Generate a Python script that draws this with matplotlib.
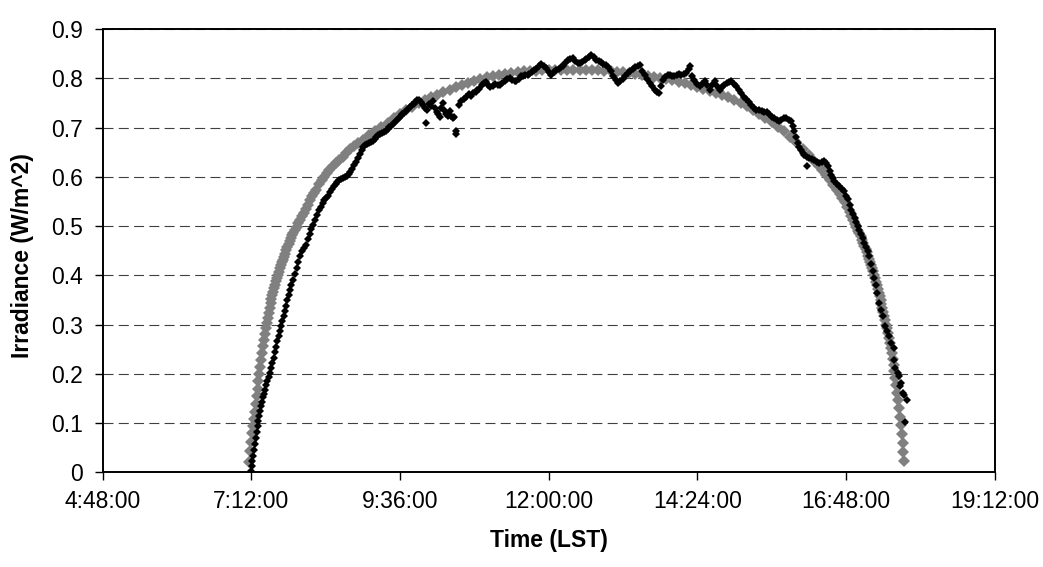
import matplotlib
matplotlib.use('Agg')
from matplotlib import pyplot as plt

#Modelled clear-sky irradiance (grey diamonds), time in decimal hours LST
model_hours = [7.160, 7.175, 7.195, 7.210, 7.225, 7.240, 7.255, 7.270, 7.285, 7.300,
               7.315, 7.330, 7.345, 7.360, 7.375, 7.390, 7.405, 7.420, 7.435, 7.450,
               7.465, 7.480, 7.495, 7.510, 7.525, 7.540, 7.555, 7.570, 7.585, 7.600,
               7.615, 7.630, 7.645, 7.660, 7.675, 7.690, 7.705, 7.720, 7.740, 7.760,
               7.780, 7.800, 7.820, 7.840, 7.860, 7.880, 7.900, 7.930, 7.960, 7.990,
               8.020, 8.050, 8.080, 8.110, 8.145, 8.180, 8.215, 8.250, 8.300, 8.340,
               8.380, 8.420, 8.460, 8.520, 8.570, 8.620, 8.680, 8.730, 8.800, 8.860,
               8.930, 9.0, 9.1, 9.2, 9.3, 9.4, 9.5, 9.6, 9.7, 9.8,
               9.9, 10.0, 10.1, 10.2, 10.3, 10.4, 10.5, 10.6, 10.7, 10.8,
               10.9, 11.0, 11.1, 11.2, 11.3, 11.4, 11.5, 11.6, 11.7, 11.8,
               11.9, 12.0, 12.1, 12.2, 12.3, 12.4, 12.5, 12.6, 12.7, 12.8,
               12.9, 13.0, 13.1, 13.2, 13.3, 13.4, 13.5, 13.6, 13.7, 13.8,
               13.9, 14.0, 14.1, 14.2, 14.3, 14.4, 14.5, 14.6, 14.7, 14.8,
               14.9, 15.0, 15.1, 15.2, 15.3, 15.4, 15.5, 15.6, 15.7, 15.8,
               15.9, 16.0, 16.1, 16.2, 16.30, 16.36, 16.42, 16.48, 16.54, 16.60,
               16.65, 16.70, 16.74, 16.78, 16.82, 16.86, 16.89, 16.92, 16.95, 16.97,
               17.00, 17.02, 17.04, 17.06, 17.08, 17.10, 17.12, 17.14, 17.16, 17.18,
               17.195, 17.21, 17.225, 17.24, 17.255, 17.27, 17.285, 17.30, 17.315, 17.33,
               17.345, 17.36, 17.375, 17.39, 17.405, 17.42, 17.435, 17.45, 17.465, 17.48,
               17.495, 17.51, 17.525, 17.54, 17.555, 17.57, 17.585, 17.60, 17.615, 17.63,
               17.645, 17.66, 17.675, 17.69, 17.705, 17.72, 17.73, 17.74]
model_irr = [0.020, 0.043, 0.062, 0.080, 0.095, 0.109, 0.123, 0.139, 0.155, 0.170,
             0.185, 0.200, 0.214, 0.229, 0.243, 0.256, 0.269, 0.281, 0.292, 0.304,
             0.314, 0.324, 0.333, 0.343, 0.352, 0.360, 0.367, 0.374, 0.381, 0.388,
             0.394, 0.401, 0.407, 0.414, 0.420, 0.426, 0.432, 0.437, 0.444, 0.451,
             0.457, 0.463, 0.469, 0.475, 0.481, 0.486, 0.491, 0.499, 0.506, 0.513,
             0.520, 0.527, 0.535, 0.543, 0.552, 0.560, 0.567, 0.574, 0.586, 0.594,
             0.600, 0.607, 0.613, 0.621, 0.628, 0.634, 0.641, 0.648, 0.656, 0.662,
             0.669, 0.675, 0.685, 0.693, 0.701, 0.710, 0.719, 0.727, 0.735, 0.742,
             0.749, 0.755, 0.761, 0.767, 0.772, 0.777, 0.782, 0.787, 0.791, 0.795,
             0.799, 0.802, 0.805, 0.807, 0.809, 0.811, 0.812, 0.814, 0.815, 0.815,
             0.816, 0.816, 0.817, 0.817, 0.817, 0.817, 0.817, 0.817, 0.816, 0.816,
             0.815, 0.814, 0.813, 0.812, 0.811, 0.809, 0.807, 0.805, 0.803, 0.801,
             0.798, 0.796, 0.793, 0.790, 0.787, 0.783, 0.779, 0.775, 0.771, 0.766,
             0.761, 0.756, 0.750, 0.743, 0.736, 0.728, 0.720, 0.711, 0.702, 0.692,
             0.681, 0.670, 0.657, 0.644, 0.630, 0.622, 0.613, 0.604, 0.594, 0.583,
             0.574, 0.565, 0.556, 0.548, 0.539, 0.528, 0.520, 0.512, 0.504, 0.499,
             0.490, 0.485, 0.479, 0.472, 0.466, 0.460, 0.453, 0.447, 0.440, 0.434,
             0.428, 0.421, 0.415, 0.408, 0.401, 0.394, 0.387, 0.380, 0.372, 0.365,
             0.357, 0.350, 0.342, 0.334, 0.326, 0.317, 0.309, 0.300, 0.292, 0.283,
             0.273, 0.263, 0.253, 0.242, 0.231, 0.218, 0.205, 0.191, 0.177, 0.162,
             0.147, 0.130, 0.113, 0.096, 0.078, 0.060, 0.042, 0.022]

#Measured irradiance (black diamonds)
meas_hours = [7.200, 7.205, 7.215, 7.225, 7.240, 7.255, 7.270, 7.285, 7.300, 7.315,
              7.330, 7.345, 7.360, 7.375, 7.390, 7.405, 7.420, 7.440, 7.460, 7.480,
              7.500, 7.520, 7.540, 7.560, 7.580, 7.600, 7.620, 7.640, 7.660, 7.680,
              7.700, 7.720, 7.740, 7.760, 7.780, 7.800, 7.820, 7.845, 7.870, 7.900,
              7.930, 7.960, 7.990, 8.020, 8.050, 8.080, 8.110, 8.140, 8.170, 8.200,
              8.230, 8.260, 8.290, 8.320, 8.350, 8.380, 8.410, 8.440, 8.470, 8.500,
              8.530, 8.560, 8.590, 8.620, 8.650, 8.680, 8.710, 8.740, 8.770, 8.800,
              8.830, 8.860, 8.890, 8.920, 8.950, 8.980, 9.010, 9.040, 9.070, 9.100,
              9.130, 9.160, 9.190, 9.220, 9.250, 9.280, 9.310, 9.340, 9.370, 9.400,
              9.430, 9.460, 9.490, 9.520, 9.550, 9.580, 9.610, 9.640, 9.670, 9.700,
              9.730, 9.760, 9.790, 9.820, 9.850, 9.880, 9.910, 9.940, 9.970, 10.00,
              10.02, 10.04, 10.07, 10.10, 10.13, 10.16, 10.19, 10.21, 10.24, 10.26,
              10.29, 10.31, 10.34, 10.37, 10.40, 10.43, 10.46, 10.48, 10.51, 10.51,
              10.55, 10.59, 10.63, 10.67, 10.71, 10.75, 10.78, 10.82, 10.85, 10.88,
              10.92, 10.95, 10.99, 11.02, 11.06, 11.10, 11.14, 11.18, 11.21, 11.25,
              11.29, 11.33, 11.37, 11.41, 11.45, 11.48, 11.52, 11.55, 11.58, 11.62,
              11.66, 11.69, 11.73, 11.77, 11.80, 11.84, 11.88, 11.92, 11.96, 12.00,
              12.04, 12.08, 12.12, 12.16, 12.20, 12.23, 12.27, 12.31, 12.35, 12.39,
              12.43, 12.47, 12.50, 12.54, 12.58, 12.61, 12.65, 12.69, 12.73, 12.77,
              12.81, 12.85, 12.88, 12.92, 12.96, 13.00, 13.04, 13.08, 13.12, 13.16,
              13.20, 13.24, 13.28, 13.32, 13.36, 13.40, 13.44, 13.47, 13.51, 13.55,
              13.59, 13.63, 13.67, 13.71, 13.75, 13.78, 13.81, 13.84, 13.88, 13.92,
              13.96, 14.00, 14.03, 14.07, 14.11, 14.14, 14.18, 14.22, 14.26, 14.28,
              14.32, 14.35, 14.40, 14.44, 14.48, 14.52, 14.56, 14.60, 14.64, 14.68,
              14.72, 14.76, 14.80, 14.84, 14.88, 14.92, 14.95, 14.99, 15.03, 15.07,
              15.11, 15.15, 15.19, 15.23, 15.27, 15.31, 15.35, 15.40, 15.44, 15.48,
              15.52, 15.56, 15.60, 15.64, 15.68, 15.72, 15.76, 15.80, 15.84, 15.88,
              15.91, 15.94, 15.97, 16.00, 16.02, 16.05, 16.08, 16.11, 16.13, 16.17,
              16.18, 16.21, 16.25, 16.29, 16.33, 16.37, 16.41, 16.45, 16.48, 16.51,
              16.54, 16.56, 16.59, 16.61, 16.65, 16.69, 16.73, 16.77, 16.80, 16.83,
              16.86, 16.88, 16.91, 16.94, 16.96, 16.99, 17.02, 17.04, 17.07, 17.10,
              17.13, 17.15, 17.18, 17.20, 17.23, 17.26, 17.29, 17.31, 17.34, 17.37,
              17.40, 17.43, 17.46, 17.49, 17.53, 17.57, 17.58, 17.60, 17.64, 17.65,
              17.68, 17.69, 17.72, 17.74, 17.79, 17.75]
meas_irr = [0.003, 0.012, 0.022, 0.033, 0.045, 0.057, 0.070, 0.082, 0.094, 0.105,
            0.115, 0.125, 0.134, 0.143, 0.152, 0.160, 0.168, 0.177, 0.186, 0.194,
            0.202, 0.212, 0.222, 0.233, 0.244, 0.255, 0.266, 0.277, 0.287, 0.297,
            0.307, 0.318, 0.328, 0.338, 0.349, 0.359, 0.370, 0.380, 0.391, 0.403,
            0.415, 0.427, 0.439, 0.449, 0.456, 0.462, 0.473, 0.484, 0.494, 0.502,
            0.512, 0.523, 0.532, 0.538, 0.546, 0.552, 0.557, 0.562, 0.569, 0.575,
            0.581, 0.586, 0.590, 0.594, 0.596, 0.598, 0.600, 0.602, 0.605, 0.610,
            0.616, 0.623, 0.631, 0.639, 0.647, 0.654, 0.660, 0.665, 0.667, 0.668,
            0.671, 0.672, 0.677, 0.681, 0.684, 0.687, 0.689, 0.690, 0.693, 0.697,
            0.701, 0.704, 0.707, 0.712, 0.716, 0.719, 0.723, 0.727, 0.730, 0.733,
            0.737, 0.741, 0.745, 0.748, 0.752, 0.756, 0.755, 0.752, 0.745, 0.739,
            0.709, 0.735, 0.748, 0.744, 0.753, 0.740, 0.731, 0.728, 0.722, 0.740,
            0.750, 0.736, 0.728, 0.724, 0.733, 0.724, 0.720, 0.722, 0.686, 0.693,
            0.745, 0.753, 0.758, 0.763, 0.768, 0.765, 0.770, 0.773, 0.777, 0.778,
            0.786, 0.791, 0.792, 0.786, 0.783, 0.784, 0.788, 0.787, 0.787, 0.791,
            0.794, 0.799, 0.801, 0.797, 0.794, 0.794, 0.799, 0.804, 0.804, 0.806,
            0.807, 0.808, 0.812, 0.816, 0.818, 0.824, 0.828, 0.825, 0.821, 0.812,
            0.807, 0.812, 0.817, 0.819, 0.822, 0.825, 0.832, 0.838, 0.840, 0.841,
            0.836, 0.832, 0.831, 0.834, 0.838, 0.839, 0.844, 0.848, 0.843, 0.838,
            0.836, 0.833, 0.830, 0.826, 0.822, 0.814, 0.804, 0.797, 0.791, 0.795,
            0.798, 0.805, 0.811, 0.815, 0.818, 0.822, 0.825, 0.826, 0.815, 0.807,
            0.799, 0.791, 0.784, 0.777, 0.772, 0.770, 0.785, 0.797, 0.803, 0.807,
            0.806, 0.804, 0.805, 0.806, 0.808, 0.807, 0.809, 0.811, 0.818, 0.824,
            0.805, 0.797, 0.789, 0.784, 0.789, 0.794, 0.786, 0.777, 0.786, 0.794,
            0.785, 0.777, 0.782, 0.787, 0.790, 0.793, 0.794, 0.789, 0.784, 0.777,
            0.770, 0.763, 0.757, 0.751, 0.746, 0.740, 0.735, 0.736, 0.734, 0.732,
            0.731, 0.728, 0.722, 0.719, 0.715, 0.713, 0.716, 0.719, 0.720, 0.716,
            0.713, 0.703, 0.692, 0.680, 0.669, 0.661, 0.655, 0.649, 0.645, 0.641,
            0.621, 0.638, 0.636, 0.635, 0.631, 0.628, 0.630, 0.632, 0.627, 0.621,
            0.612, 0.604, 0.597, 0.591, 0.586, 0.581, 0.576, 0.571, 0.562, 0.554,
            0.543, 0.533, 0.525, 0.517, 0.508, 0.500, 0.491, 0.483, 0.475, 0.466,
            0.457, 0.449, 0.440, 0.422, 0.408, 0.395, 0.380, 0.364, 0.344, 0.330,
            0.317, 0.297, 0.286, 0.276, 0.263, 0.253, 0.229, 0.212, 0.202, 0.195,
            0.175, 0.182, 0.162, 0.156, 0.146, 0.102]

#Axis ticks
x_ticks = [4.8, 7.2, 9.6, 12.0, 14.4, 16.8, 19.2]
x_tick_labels = ['4:48:00', '7:12:00', '9:36:00', '12:00:00', '14:24:00', '16:48:00', '19:12:00']
y_ticks = [0, 0.1, 0.2, 0.3, 0.4, 0.5, 0.6, 0.7, 0.8, 0.9]
y_tick_labels = ['0', '0.1', '0.2', '0.3', '0.4', '0.5', '0.6', '0.7', '0.8', '0.9']

plt.rcParams['font.family'] = ['Liberation Sans', 'DejaVu Sans']
plt.rcParams['lines.scale_dashes'] = False

fig = plt.figure(figsize=(10.43, 5.67), dpi=100)
ax = fig.add_axes([0.0985, 0.167, 0.855, 0.7818])

ax.plot(model_hours, model_irr, linestyle='none', marker='D', markersize=6.0,
        markerfacecolor='#808080', markeredgewidth=0, zorder=3)
ax.plot(meas_hours, meas_irr, linestyle='none', marker='D', markersize=3.8,
        markerfacecolor='#000000', markeredgewidth=0, zorder=4)

ax.set_xlim(4.8, 19.2)
ax.set_ylim(0, 0.9)
ax.set_xticks(x_ticks)
ax.set_xticklabels(x_tick_labels)
ax.set_yticks(y_ticks)
ax.set_yticklabels(y_tick_labels)
ax.tick_params(axis='both', direction='out', length=5.5, width=1, labelsize=16.5,
               color='#000000')
ax.tick_params(axis='x', pad=7)
ax.tick_params(axis='y', pad=9)

ax.yaxis.grid(True, linestyle=(0, (7.2, 3.8)), color='#404040', linewidth=0.8)
ax.set_axisbelow(True)
for side in ['left', 'right', 'top', 'bottom']:
    ax.spines[side].set_linewidth(1.4)
    ax.spines[side].set_color('#000000')

ax.set_xlabel('Time (LST)', fontsize=16.5, fontweight='bold')
ax.set_ylabel('Irradiance (W/m^2)', fontsize=16.5, fontweight='bold')
ax.xaxis.set_label_coords(0.5, -0.153)
ax.xaxis.label.set_verticalalignment('center')
ax.yaxis.set_label_coords(-0.0905, 0.49)
ax.yaxis.label.set_verticalalignment('center')

fig.savefig('out.png', dpi=100)
